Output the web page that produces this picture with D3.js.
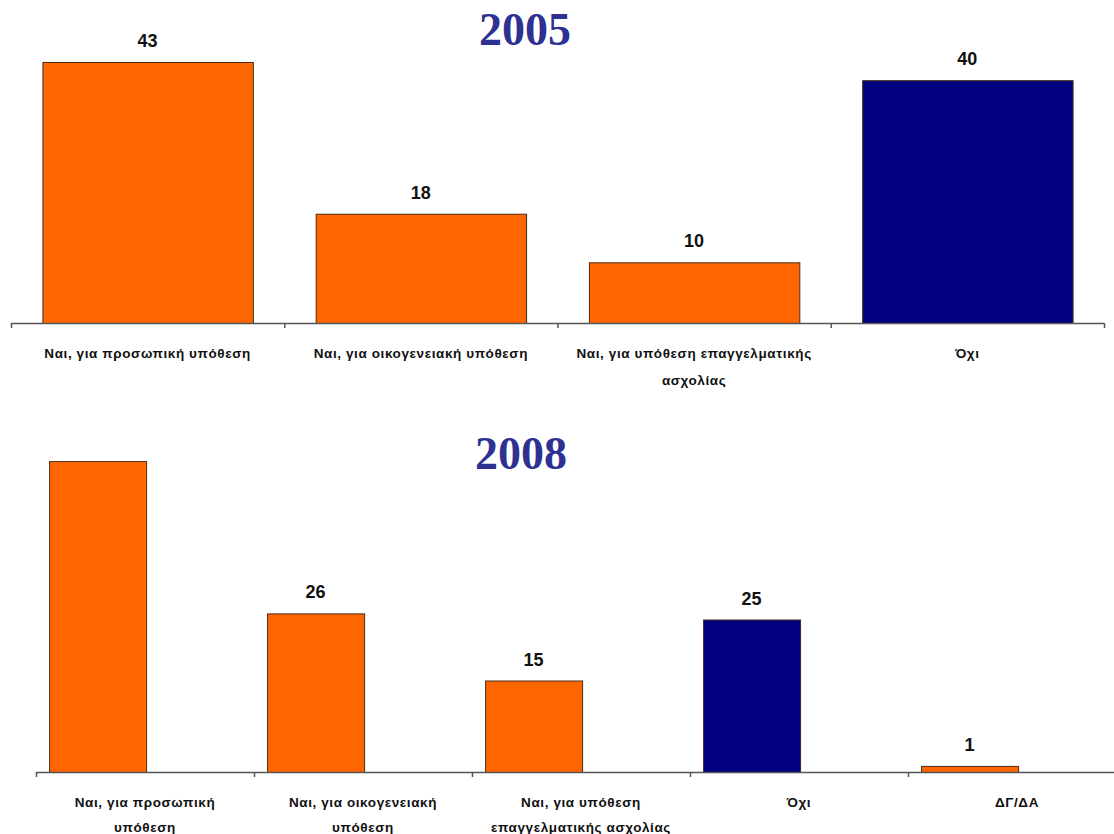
<!DOCTYPE html>
<html>
<head>
<meta charset="utf-8">
<script src="https://cdn.jsdelivr.net/npm/d3@7"></script>
<style>
  html, body { margin: 0; padding: 0; background: #fff; }
  svg { display: block; }
</style>
</head>
<body>
<svg id="chart" width="1114" height="834"></svg>
<script>
// ---- Data ----
const categories2005 = [
  ["Ναι, για προσωπική υπόθεση"],
  ["Ναι, για οικογενειακή υπόθεση"],
  ["Ναι, για υπόθεση επαγγελματικής", "ασχολίας"],
  ["Όχι"]
];
const values2005 = [43, 18, 10, 40];
const colors2005 = ["orange", "orange", "orange", "navy"];

const categories2008 = [
  ["Ναι, για προσωπική", "υπόθεση"],
  ["Ναι, για οικογενειακή", "υπόθεση"],
  ["Ναι, για υπόθεση", "επαγγελματικής ασχολίας"],
  ["Όχι"],
  ["ΔΓ/ΔΑ"]
];
const values2008 = [51, 26, 15, 25, 1];
const colors2008 = ["orange", "orange", "orange", "navy", "orange"];

const titles = ["2005", "2008"];

// ---- Styles ----
const palette = { orange: "#FF6600", navy: "#000080" };
const barStroke = "#4a2a1a";
const axisColor = "#555";
const titleColor = "#2E3192";
const labelFont = "'Liberation Sans', Arial, sans-serif";

const svg = d3.select("#chart");

function drawPanel(cfg) {
  const g = svg.append("g");
  const keys = cfg.categories.map((c, i) => "c" + i);

  const x = d3.scaleBand().domain(keys).range(cfg.xRange)
    .paddingInner(cfg.padInner).paddingOuter(cfg.padOuter);
  const y = d3.scaleLinear().domain([0, cfg.yMax]).range([cfg.baseline, cfg.yTop]);

  const clipId = "clip-" + cfg.title;
  svg.append("defs").append("clipPath").attr("id", clipId)
    .append("rect").attr("x", 0).attr("y", cfg.clipTop)
    .attr("width", 1114).attr("height", cfg.baseline - cfg.clipTop + 1);

  const plot = g.append("g").attr("clip-path", `url(#${clipId})`);

  const barX = (i) => cfg.barX ? cfg.barX(x, keys[i]) : x(keys[i]);
  const barW = cfg.barW ? cfg.barW(x) : x.bandwidth();

  plot.selectAll("rect.bar").data(cfg.values).join("rect")
    .attr("class", "bar")
    .attr("x", (d, i) => barX(i) + 0.5)
    .attr("y", d => y(d) + 0.5)
    .attr("width", barW)
    .attr("height", d => cfg.baseline - y(d))
    .attr("fill", (d, i) => palette[cfg.colors[i]])
    .attr("stroke", barStroke)
    .attr("stroke-width", 1);

  plot.selectAll("text.val").data(cfg.values).join("text")
    .attr("class", "val")
    .attr("x", (d, i) => barX(i) + barW / 2)
    .attr("y", d => y(d) - 15)
    .attr("text-anchor", "middle")
    .attr("font-family", labelFont)
    .attr("font-weight", "bold")
    .attr("font-size", 18)
    .attr("fill", "#111")
    .text(d => d);

  const step = x.step();
  const start = cfg.axisStart;
  g.append("line")
    .attr("x1", start).attr("x2", cfg.axisEnd)
    .attr("y1", cfg.baseline + 0.5).attr("y2", cfg.baseline + 0.5)
    .attr("stroke", axisColor).attr("stroke-width", 1.5);
  const tickPos = d3.range(keys.length + 1).map(i => start + i * step);
  g.selectAll("line.tick").data(tickPos).join("line")
    .attr("class", "tick")
    .attr("x1", d => d + 0.5).attr("x2", d => d + 0.5)
    .attr("y1", cfg.baseline).attr("y2", cfg.baseline + 5)
    .attr("stroke", axisColor).attr("stroke-width", 1.5);

  const lbl = g.selectAll("text.cat").data(cfg.categories).join("text")
    .attr("class", "cat")
    .attr("text-anchor", "middle")
    .attr("font-family", labelFont)
    .attr("font-weight", "bold")
    .attr("font-size", 13.5)
    .attr("letter-spacing", 0.6)
    .attr("fill", "#111");
  lbl.each(function(lines, i) {
    const cx = x(keys[i]) + x.bandwidth() / 2;
    d3.select(this).selectAll("tspan").data(lines).join("tspan")
      .attr("x", cx)
      .attr("y", (d, j) => cfg.labelY + j * cfg.lineGap)
      .text(d => d);
  });

  g.append("text")
    .attr("x", cfg.titleX).attr("y", cfg.titleY)
    .attr("text-anchor", "middle")
    .attr("font-family", "'Liberation Serif', 'Times New Roman', serif")
    .attr("font-weight", "bold")
    .attr("font-size", 46)
    .attr("fill", titleColor)
    .text(cfg.title);
}

drawPanel({
  title: titles[0],
  categories: categories2005,
  values: values2005,
  colors: colors2005,
  xRange: [11, 1104],
  padInner: 0.23,
  padOuter: 0.115,
  axisStart: 11,
  axisEnd: 1104,
  yMax: 50,
  baseline: 323,
  yTop: 323 - 50 * 6.07,
  clipTop: 0,
  labelY: 358,
  lineGap: 27,
  titleX: 525,
  titleY: 45
});

drawPanel({
  title: titles[1],
  categories: categories2008,
  values: values2008,
  colors: colors2008,
  xRange: [36, 36 + 5 * 218],
  padInner: 0,
  padOuter: 0,
  axisStart: 36,
  axisEnd: 1114,
  barX: (x, k) => x(k) + x.step() * 0.06,
  barW: (x) => x.step() * 0.445,
  yMax: 60,
  baseline: 772,
  yTop: 772 - 60 * 6.1,
  clipTop: 461,
  labelY: 807,
  lineGap: 25,
  titleX: 521,
  titleY: 469
});
</script>
</body>
</html>
